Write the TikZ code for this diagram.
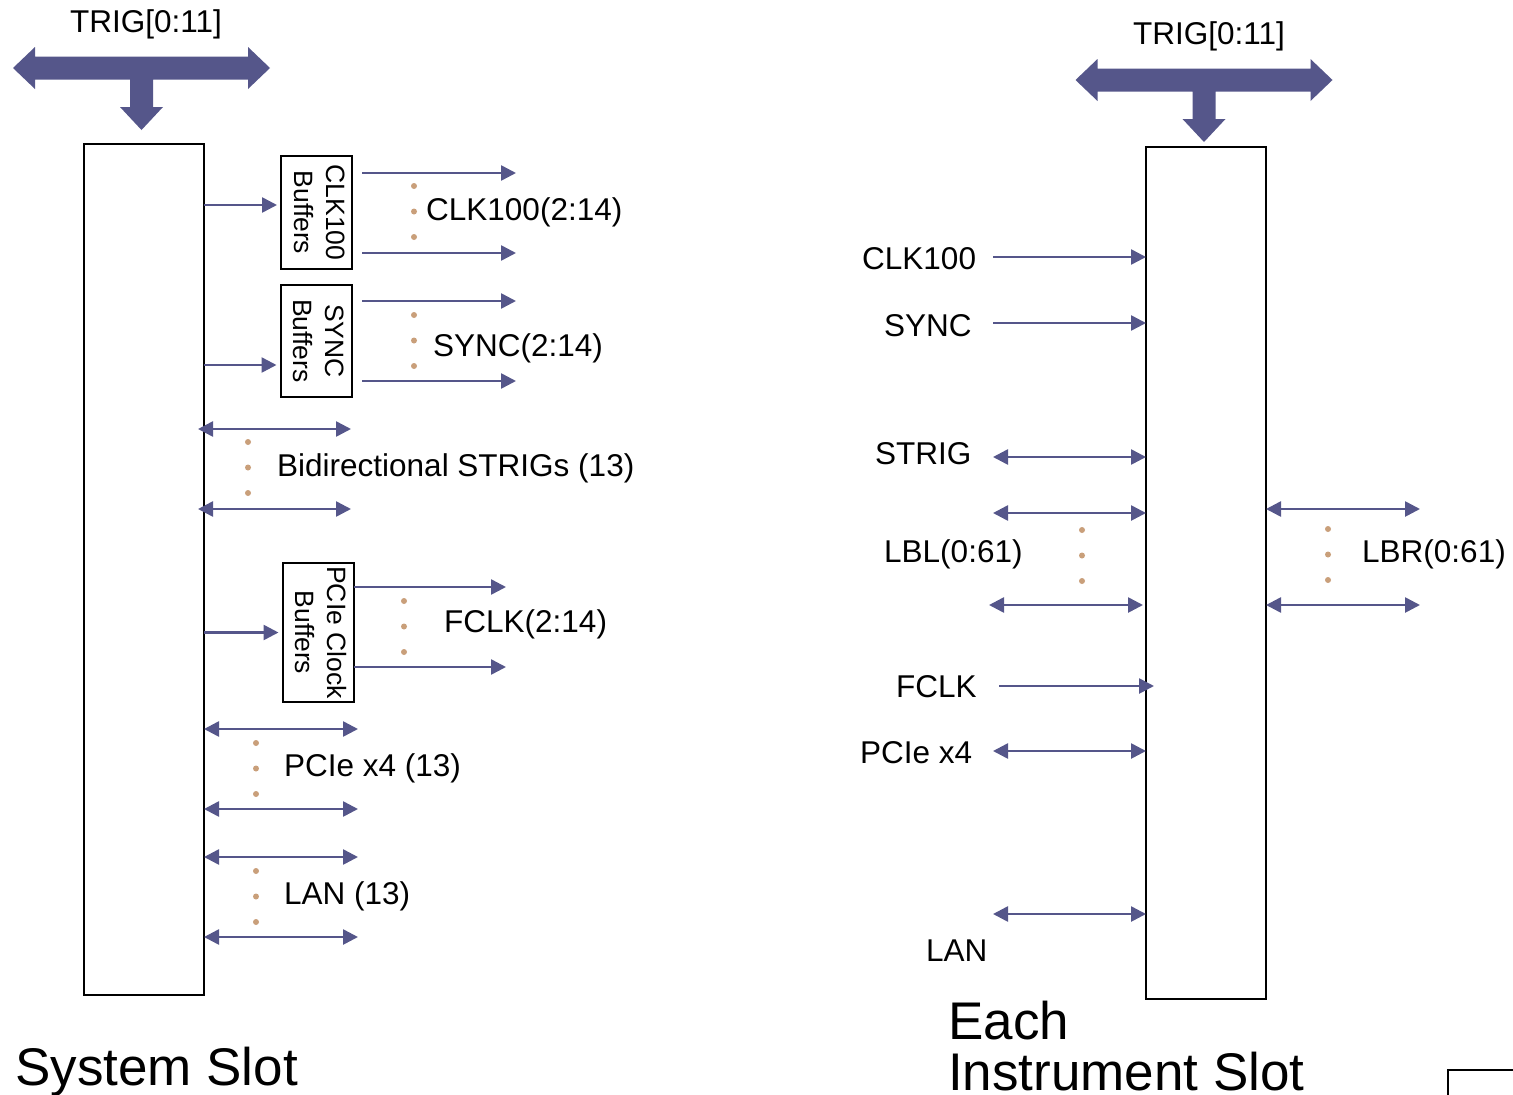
\documentclass[tikz,border=0pt]{standalone}
\usepackage{fontspec}
\setmainfont{Liberation Sans}
\usetikzlibrary{arrows.meta,calc}
\definecolor{busblue}{RGB}{85,86,138}
\definecolor{dottan}{RGB}{201,159,122}
% wide TRIG bus arrow, centre of the bar at (#1,#2)
\newcommand{\trigbus}[2]{%
  \fill[busblue] ({#1-128.5},{#2}) -- ({#1-106.5},{#2-21}) -- ({#1-106.5},{#2-11.5})
    -- ({#1+106.5},{#2-11.5}) -- ({#1+106.5},{#2-21}) -- ({#1+128.5},{#2})
    -- ({#1+106.5},{#2+21}) -- ({#1+106.5},{#2+11.5}) -- ({#1+11.5},{#2+11.5})
    -- ({#1+11.5},{#2+39}) -- ({#1+21.5},{#2+39}) -- ({#1},{#2+62})
    -- ({#1-21.5},{#2+39}) -- ({#1-11.5},{#2+39}) -- ({#1-11.5},{#2+11.5})
    -- ({#1-106.5},{#2+11.5}) -- ({#1-106.5},{#2+21}) -- cycle;
}
% three dots between two lines
\newcommand{\tripledots}[2]{%
  \foreach \k in {0,1,2}{%
    \fill[dottan] (#1,{#2+\k*25.5}) circle (3pt);
  }%
}

\begin{document}
\begin{tikzpicture}[x=1pt,y=-1pt,
  sig/.style={busblue, line width=2.6pt, -{Triangle[length=15pt,width=15pt]}},
  bidir/.style={busblue, line width=2.6pt,
    {Triangle[length=15pt,width=15pt]}-{Triangle[length=15pt,width=15pt]}},
  slot/.style={draw, line width=2pt, minimum width=120pt, inner sep=0pt, outer sep=0pt},
  bufbox/.style={draw, line width=2pt, minimum width=71pt, inner sep=0pt, outer sep=0pt,
    font=\fontsize{26.5}{32}\selectfont},
  lbl/.style={font=\fontsize{31.5}{36}\selectfont, inner sep=0pt, anchor=base west},
  slottitle/.style={font=\fontsize{53}{51}\selectfont, inner sep=0pt, anchor=base west, align=left}]
  \useasboundingbox (0,0) rectangle (1513,1095);

  % ---- system slot ----
  \trigbus{141.5}{68}
  \node[lbl] (trigL) at (70,32) {TRIG[0:11]};
  \node[slot, minimum height=851pt] (sysslot) at (144,569.5) {};

  \node[bufbox, minimum height=113pt] (clkbuf) at (316.5,212.5)
    {\rotatebox[origin=c]{-90}{\begin{tabular}{@{}c@{}}CLK100\\Buffers\end{tabular}}};
  \node[bufbox, minimum height=112pt] (syncbuf) at (316,341)
    {\rotatebox[origin=c]{-90}{\begin{tabular}{@{}c@{}}SYNC\\Buffers\end{tabular}}};
  \node[bufbox, minimum height=139pt] (fclkbuf) at (318,632.5)
    {\rotatebox[origin=c]{-90}{\begin{tabular}{@{}c@{}}PCIe Clock\\Buffers\end{tabular}}};

  \coordinate (clkIn) at ([yshift=7.5pt]clkbuf.west);
  \coordinate (syncIn) at ([yshift=-24pt]syncbuf.west);
  \draw[sig, shorten >=4pt] (sysslot.east |- clkIn) -- (clkIn);
  \draw[sig, shorten >=4pt] (sysslot.east |- syncIn) -- (syncIn);
  \draw[sig, shorten >=4pt] (sysslot.east |- fclkbuf.west) -- (fclkbuf.west);

  \coordinate (clkA) at (516,173);
  \coordinate (clkB) at (516,253);
  \draw[sig] ([xshift=10pt]clkbuf.east |- clkA) -- (clkA);
  \draw[sig] ([xshift=10pt]clkbuf.east |- clkB) -- (clkB);
  \tripledots{414}{186}
  \node[lbl] (clkout) at (426,220) {CLK100(2:14)};

  \coordinate (syncA) at (516,301);
  \coordinate (syncB) at (516,381);
  \draw[sig] ([xshift=10.5pt]syncbuf.east |- syncA) -- (syncA);
  \draw[sig] ([xshift=10.5pt]syncbuf.east |- syncB) -- (syncB);
  \tripledots{414}{315}
  \node[lbl] (syncout) at (433,356) {SYNC(2:14)};

  \coordinate (strigA) at (351,429);
  \coordinate (strigB) at (351,509);
  \draw[bidir] ([xshift=-6pt]sysslot.east |- strigA) -- (strigA);
  \draw[bidir] ([xshift=-6pt]sysslot.east |- strigB) -- (strigB);
  \tripledots{248}{442}
  \node[lbl] (strigs) at (277,476) {Bidirectional STRIGs (13)};

  \coordinate (fclkA) at (506,587);
  \coordinate (fclkB) at (506,667);
  \draw[sig] (fclkbuf.east |- fclkA) -- (fclkA);
  \draw[sig] (fclkbuf.east |- fclkB) -- (fclkB);
  \tripledots{404}{601}
  \node[lbl] (fclkout) at (444,632) {FCLK(2:14)};

  \coordinate (pcieA) at (358,729);
  \coordinate (pcieB) at (358,809);
  \draw[bidir] (sysslot.east |- pcieA) -- (pcieA);
  \draw[bidir] (sysslot.east |- pcieB) -- (pcieB);
  \tripledots{256}{743}
  \node[lbl] (pcies) at (284,776) {PCIe x4 (13)};

  \coordinate (lanA) at (358,857);
  \coordinate (lanB) at (358,937);
  \draw[bidir] (sysslot.east |- lanA) -- (lanA);
  \draw[bidir] (sysslot.east |- lanB) -- (lanB);
  \tripledots{256}{871}
  \node[lbl] (lans) at (284,904) {LAN (13)};

  \node[slottitle] (systitle) at (15,1085) {System Slot};

  % ---- instrument slot ----
  \trigbus{1204}{80}
  \node[lbl] (trigR) at (1133,44) {TRIG[0:11]};
  \node[slot, minimum height=852pt] (instslot) at (1206,573) {};

  \node[lbl] (iclklbl) at (862,269) {CLK100};
  \coordinate (iclk) at (993,257);
  \draw[sig] (iclk) -- (instslot.west |- iclk);

  \node[lbl] (isynclbl) at (884,336) {SYNC};
  \coordinate (isync) at (993,323);
  \draw[sig] (isync) -- (instslot.west |- isync);

  \node[lbl] (istriglbl) at (875,464) {STRIG};
  \coordinate (istrig) at (993,457);
  \draw[bidir] (istrig) -- (instslot.west |- istrig);

  \node[lbl] (lbllbl) at (884,562) {LBL(0:61)};
  \coordinate (lblA) at (993,513);
  \coordinate (lblB) at (989,605);
  \draw[bidir] (lblA) -- (instslot.west |- lblA);
  \draw[bidir] (lblB) -- ([xshift=-3pt]instslot.west |- lblB);
  \tripledots{1082}{530}

  \node[lbl] (lbrlbl) at (1362,562) {LBR(0:61)};
  \coordinate (lbrA) at (1420,509);
  \coordinate (lbrB) at (1420,605);
  \draw[bidir] (instslot.east |- lbrA) -- (lbrA);
  \draw[bidir] (instslot.east |- lbrB) -- (lbrB);
  \tripledots{1328}{529}

  \node[lbl] (ifclklbl) at (896,697) {FCLK};
  \coordinate (ifclk) at (999,686);
  \draw[sig] (ifclk) -- ([xshift=8pt]instslot.west |- ifclk);

  \node[lbl] (ipcielbl) at (860,763) {PCIe x4};
  \coordinate (ipcie) at (993,751);
  \draw[bidir] (ipcie) -- (instslot.west |- ipcie);

  \node[lbl] (ilanlbl) at (926,961) {LAN};
  \coordinate (ilan) at (993,914);
  \draw[bidir] (ilan) -- (instslot.west |- ilan);

  \node[slottitle] (insttitle) at (948,1090) {Each\\Instrument Slot};

  % corner of a frame cut by the edge
  \draw[line width=1.2pt] (1448,1095) -- (1448,1070) -- (1513,1070);
\end{tikzpicture}
\end{document}
